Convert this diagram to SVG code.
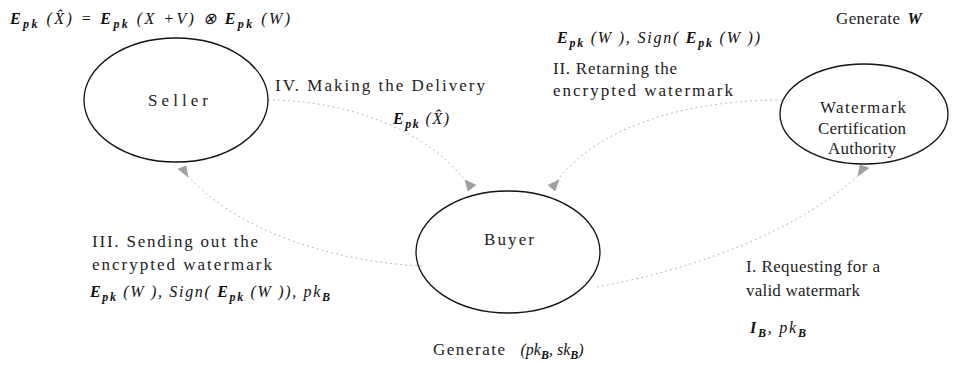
<svg xmlns="http://www.w3.org/2000/svg" width="959" height="365" viewBox="0 0 959 365">
<style>
.node{fill:none;stroke:#111;stroke-width:1.3}
.lbl{font-family:"Times New Roman","Liberation Serif",Tinos,serif;font-size:17px;fill:#222}
.math{font-family:"Times New Roman","Liberation Serif",Tinos,serif;font-size:16px;font-style:italic;fill:#111}
.b{font-weight:bold}
.sub{font-size:12px;font-weight:bold}
.conn{fill:none;stroke:#b8b8b8;stroke-width:1;stroke-dasharray:2 3}
.head{fill:#a0a0a0;stroke:#909090;stroke-width:0.5}
</style>
<rect width="959" height="365" fill="#fff"/>

<g id="connectors">
  <path class="conn" d="M 268 100 C 330 100, 420 120, 470 186"/>
  <path class="conn" d="M 782 100 C 700 100, 600 120, 553 186"/>
  <path class="conn" d="M 422 266 C 340 262, 240 235, 185 173"/>
  <path class="conn" d="M 597 287 C 700 268, 800 230, 862 172"/>
  <polygon class="head" points="465,180 476,185 468,191"/>
  <polygon class="head" points="559,180 548,185 555,191"/>
  <polygon class="head" points="188,177 178,169 186,166"/>
  <polygon class="head" points="858,176 860,165 869,168"/>
</g>

<g id="seller">
  <ellipse class="node" cx="176" cy="100" rx="92" ry="62"/>
  <text class="lbl" x="148" y="106" textLength="60" font-size="18">Seller</text>
</g>

<g id="buyer">
  <ellipse class="node" cx="508" cy="252" rx="92" ry="61"/>
  <text class="lbl" x="484" y="245" textLength="50">Buyer</text>
</g>

<g id="ca">
  <ellipse class="node" cx="864" cy="114" rx="84" ry="50"/>
  <text class="lbl" x="820" y="113" textLength="86">Watermark</text>
  <text class="lbl" x="818" y="134" textLength="88">Certification</text>
  <text class="lbl" x="828" y="154" textLength="68">Authority</text>
</g>

<g id="labels">
  <text class="math" x="10" y="24" textLength="280"><tspan class="b">E</tspan><tspan class="sub" dy="4">pk</tspan><tspan dy="-4"> (X̂) = </tspan><tspan class="b">E</tspan><tspan class="sub" dy="4">pk</tspan><tspan dy="-4"> (X +V) ⊗ </tspan><tspan class="b">E</tspan><tspan class="sub" dy="4">pk</tspan><tspan dy="-4"> (W)</tspan></text>

  <text class="math" x="557" y="43" textLength="203"><tspan class="b">E</tspan><tspan class="sub" dy="4">pk</tspan><tspan dy="-4"> (W ), Sign( </tspan><tspan class="b">E</tspan><tspan class="sub" dy="4">pk</tspan><tspan dy="-4"> (W ))</tspan></text>

  <text class="lbl" x="836" y="24"><tspan textLength="64">Generate</tspan><tspan class="math b" dx="7">W</tspan></text>

  <text class="lbl" x="553" y="74" textLength="124">II. Retarning the</text>
  <text class="lbl" x="553" y="96" textLength="180">encrypted watermark</text>

  <text class="lbl" x="275" y="91" textLength="210">IV. Making the Delivery</text>
  <text class="math" x="393" y="124" textLength="56"><tspan class="b">E</tspan><tspan class="sub" dy="4">pk</tspan><tspan dy="-4"> (X̂)</tspan></text>

  <text class="lbl" x="92" y="247" textLength="166">III. Sending out the</text>
  <text class="lbl" x="92" y="270" textLength="180">encrypted watermark</text>
  <text class="math" x="90" y="297" textLength="240"><tspan class="b">E</tspan><tspan class="sub" dy="4">pk</tspan><tspan dy="-4"> (W ), Sign( </tspan><tspan class="b">E</tspan><tspan class="sub" dy="4">pk</tspan><tspan dy="-4"> (W )), pk</tspan><tspan class="sub" dy="4">B</tspan></text>

  <text class="lbl" x="746" y="272" textLength="134">I. Requesting for a</text>
  <text class="lbl" x="746" y="296" textLength="114">valid watermark</text>
  <text class="math" x="750" y="333" textLength="56"><tspan class="b">I</tspan><tspan class="sub" dy="4">B</tspan><tspan dy="-4">, pk</tspan><tspan class="sub" dy="4">B</tspan></text>

  <text class="lbl" x="433" y="355"><tspan textLength="72">Generate</tspan><tspan class="math" dx="14">(pk</tspan><tspan class="math sub" dy="4">B</tspan><tspan class="math" dy="-4">, sk</tspan><tspan class="math sub" dy="4">B</tspan><tspan class="math" dy="-4">)</tspan></text>
</g>
</svg>
